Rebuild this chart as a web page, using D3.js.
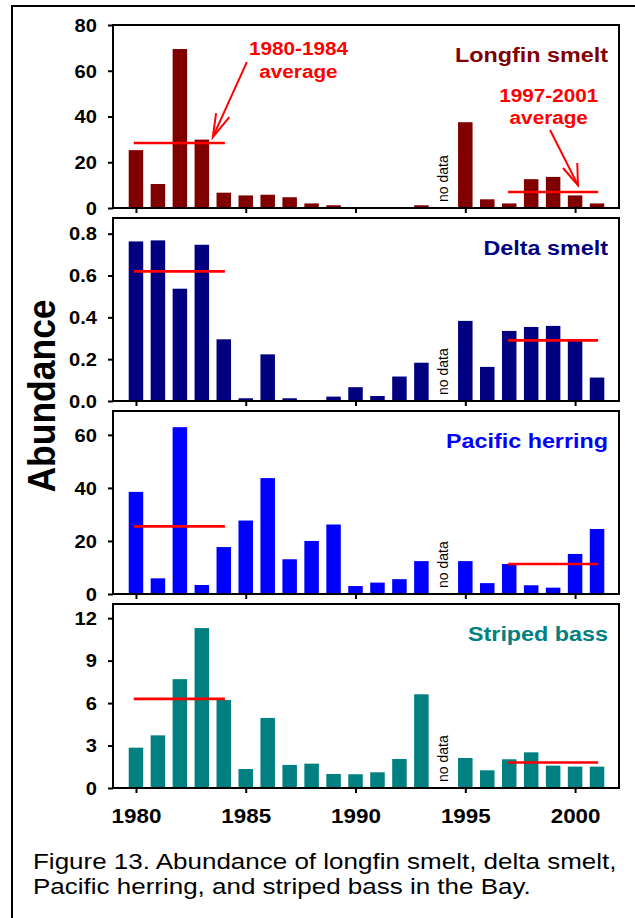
<!DOCTYPE html>
<html><head><meta charset="utf-8">
<script src="https://cdn.jsdelivr.net/npm/d3@7"></script>
<style>
body{margin:0;background:#fff}
svg{display:block;font-family:Arial,"Liberation Sans",sans-serif}
</style>
</head><body>
<svg id="c" width="635" height="918"></svg>
<script>
// ---------------- data ----------------
const years = [1980,1981,1982,1983,1984,1985,1986,1987,1988,1989,1990,1991,1992,1993,1994,1995,1996,1997,1998,1999,2000,2001];
const xTickYears = [1980,1985,1990,1995,2000];
const longfin = [25.3,10.5,69.5,29.9,6.7,5.5,5.8,4.7,2.0,1.2,0,0,0,1.2,null,37.5,3.8,2.0,12.6,13.6,5.5,2.0];
const delta   = [0.763,0.768,0.537,0.747,0.295,0.013,0.223,0.013,0,0.021,0.066,0.024,0.117,0.183,null,0.383,0.163,0.335,0.354,0.359,0.287,0.112];
const herring = [38.5,5.9,62.9,3.4,17.7,27.7,43.7,13.1,20.0,26.2,3.0,4.3,5.6,12.4,null,12.4,4.1,11.3,3.3,2.4,15.1,24.5];
const striped = [2.85,3.72,7.69,11.3,6.22,1.34,4.95,1.63,1.72,0.99,0.97,1.11,2.05,6.62,null,2.12,1.25,2.03,2.52,1.58,1.51,1.51];
const seriesNames = ["Longfin smelt","Delta smelt","Pacific herring","Striped bass"];
const seriesColors = ["#800000","#000080","#0000FF","#008080"];
const avgEarly = [28.4,0.62,25.5,6.3];   // 1980-1984 average
const avgLate  = [7.0,0.29,11.3,1.8];    // 1997-2001 average
const yMax = [80,0.875,69,13];
const yTicks = [[0,20,40,60,80],[0,0.2,0.4,0.6,0.8],[0,20,40,60],[0,3,6,9,12]];
const yFormats = ["d",".1f","d","d"];
const noDataYear = 1994;
const yAxisTitle = "Abundance";
const caption = ["Figure 13. Abundance of longfin smelt, delta smelt,","Pacific herring, and striped bass in the Bay."];

// ---------------- layout ----------------
const allSeries = [longfin,delta,herring,striped];
const panelTop = [25,218,411,604];
const panelBot = [208,401,594,788];
const plotL = 113, plotR = 619;
const SX = 1.15;

const svg = d3.select("#c");
svg.append("rect").attr("width",635).attr("height",918).attr("fill","#fff");
// outer frame
svg.append("rect").attr("x",12).attr("y",6).attr("width",660).attr("height",940)
  .attr("fill","none").attr("stroke","#000").attr("stroke-width",2);

const x = d3.scaleLinear().domain([1979,2002]).range([114,619]);
const barW = 14.5;

function stext(g, px, py, str, o){
  const t = g.append("text")
    .attr("transform",`translate(${px},${py}) scale(${o.sx||SX},1)` + (o.rot?` rotate(${o.rot})`:""))
    .attr("text-anchor",o.anchor||"middle")
    .attr("font-size",o.size)
    .attr("font-weight",o.weight||"bold")
    .attr("fill",o.fill||"#000")
    .text(str);
  return t;
}

allSeries.forEach((data,i)=>{
  const y = d3.scaleLinear().domain([0,yMax[i]]).range([panelBot[i],panelTop[i]]);
  const g = svg.append("g");
  const rows = years.map((yr,j)=>({yr, v:data[j]})).filter(d=>d.v!==null);
  g.selectAll("rect.bar").data(rows).join("rect").attr("class","bar")
    .attr("x",d=>x(d.yr)-barW/2).attr("width",barW)
    .attr("y",d=>y(d.v)).attr("height",d=>y(0)-y(d.v))
    .attr("fill",seriesColors[i]);
  // averages
  g.append("line").attr("x1",x(1979.9)).attr("x2",x(1984.05))
    .attr("y1",y(avgEarly[i])).attr("y2",y(avgEarly[i]))
    .attr("stroke","#FF0000").attr("stroke-width",2.6);
  g.append("line").attr("x1",x(1996.95)).attr("x2",x(2001.05))
    .attr("y1",y(avgLate[i])).attr("y2",y(avgLate[i]))
    .attr("stroke","#FF0000").attr("stroke-width",2.6);
  // box
  g.append("rect").attr("x",plotL).attr("y",panelTop[i])
    .attr("width",plotR-plotL).attr("height",panelBot[i]-panelTop[i])
    .attr("fill","none").attr("stroke","#000").attr("stroke-width",2);
  // y axis
  const ya = g.append("g").attr("transform",`translate(${plotL},0)`)
    .call(d3.axisLeft(y).tickValues(yTicks[i]).tickSize(5).tickFormat(d3.format(yFormats[i])));
  ya.select(".domain").remove();
  ya.selectAll(".tick line").attr("stroke","#000").attr("stroke-width",2);
  ya.selectAll(".tick text").attr("x",null).attr("dy",null)
    .attr("transform",`translate(-16,6.3) scale(${SX},1)`)
    .attr("font-size",17.5).attr("font-weight","bold").attr("fill","#000")
    .attr("font-family","Arial, 'Liberation Sans', sans-serif");
  // x axis
  const xa = g.append("g").attr("transform",`translate(0,${panelBot[i]})`)
    .call(d3.axisBottom(x).tickValues(xTickYears).tickSize(5).tickFormat(i===3?d3.format("d"):""));
  xa.select(".domain").remove();
  xa.selectAll(".tick line").attr("stroke","#000").attr("stroke-width",2);
  xa.selectAll(".tick text").attr("y",null).attr("dy",null)
    .attr("transform",`translate(0,34.5) scale(1.12,1)`)
    .attr("font-size",20).attr("font-weight","bold").attr("fill","#000")
    .attr("font-family","Arial, 'Liberation Sans', sans-serif");
  // series title
  stext(g, 608, panelTop[i]+37, seriesNames[i], {size:20.3, anchor:"end", fill:seriesColors[i]});
  // no data
  stext(g, x(noDataYear)+5, panelBot[i]-6, "no data", {size:14, weight:"normal", anchor:"start", rot:-90, sx:1.1});

  if(i===0){
    // annotations
    const red = "#FF0000";
    stext(g, x(1987.4), y(66.9), "1980-1984", {size:18.5, fill:red, sx:1.12});
    stext(g, x(1987.4), y(66.9)+23, "average", {size:18.5, fill:red, sx:1.12});
    stext(g, x(1998.8), y(46.3), "1997-2001", {size:18.5, fill:red, sx:1.12});
    stext(g, x(1998.8), y(46.3)+22, "average", {size:18.5, fill:red, sx:1.12});
    const arrow = (t0,v0,t1,v1,a1,b1,a2,b2)=>{
      g.append("line").attr("x1",x(t0)).attr("y1",y(v0)).attr("x2",x(t1)).attr("y2",y(v1))
        .attr("stroke",red).attr("stroke-width",2);
      g.append("path").attr("d",`M${x(a1)},${y(b1)}L${x(t1)},${y(v1)}L${x(a2)},${y(b2)}`)
        .attr("fill","none").attr("stroke",red).attr("stroke-width",2);
    };
    arrow(1985.05,63.8, 1983.5,31.0, 1983.65,41.5, 1984.25,39.7);
    arrow(1998.86,34.1, 2000.13,10.0, 1999.45,17.5, 2000.1,19.7);
  }
});

// y title
stext(svg, 41, 396, yAxisTitle, {size:35.5, anchor:"middle", rot:-90, sx:1.1})
  .attr("dy","0.35em");

// caption
caption.forEach((line,k)=>{
  stext(svg, 33, 869+25*k, line, {size:22.6, weight:"normal", anchor:"start", sx:1.15});
});
</script>
</body></html>
